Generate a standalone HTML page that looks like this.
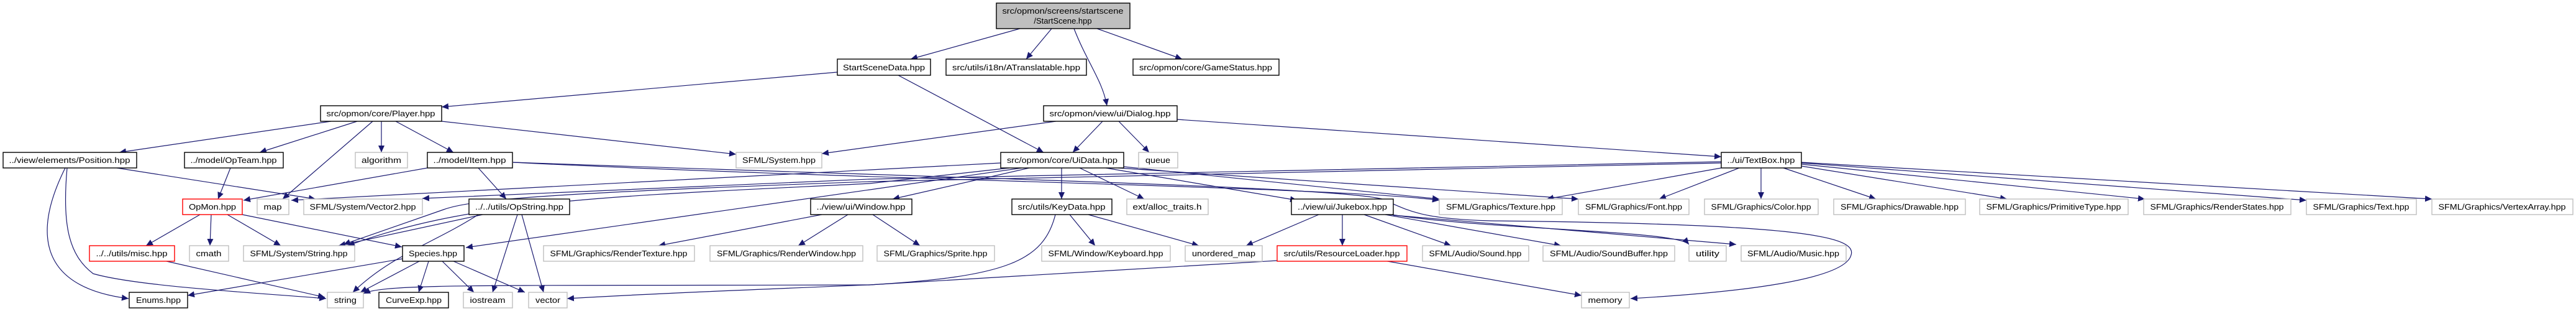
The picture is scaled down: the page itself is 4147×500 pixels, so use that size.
<!DOCTYPE html>
<html><head><meta charset="utf-8"><style>html,body{margin:0;padding:0;background:#fff}svg{display:block}</style></head>
<body>
<svg width="4147" height="500" viewBox="0 0 4147 500" xmlns="http://www.w3.org/2000/svg">
<defs>
<marker id="a" markerUnits="userSpaceOnUse" markerWidth="12" markerHeight="10" refX="11" refY="5" orient="auto"><path d="M0,0 L11,5 L0,10 z" fill="#191970"/></marker>
</defs>
<g fill="none" stroke="#191970" stroke-width="1.2" marker-end="url(#a)">
<path d="M1642,46 L1466,95"/>
<path d="M1693,46 L1652,95"/>
<path d="M1729,46 C1750,100 1775,130 1782,170"/>
<path d="M1766,46 L1903,95"/>
<path d="M1348,116 L711,172"/>
<path d="M1446,121 L1680,245"/>
<path d="M533,195 L192,245"/>
<path d="M575,195 L418,245"/>
<path d="M600,195 L455,320"/>
<path d="M614,195 L614,245"/>
<path d="M637,195 L730,245"/>
<path d="M711,195 L1185,248"/>
<path d="M1700,195 L1323,247"/>
<path d="M1775,195 L1727,245"/>
<path d="M1801,195 L1850,245"/>
<path d="M1895,192 L2771,252"/>
<path d="M188,270 L508,320"/>
<path d="M105,270 C60,360 50,460 207,480"/>
<path d="M108,270 C100,360 110,410 150,440 C220,460 400,470 525,480"/>
<path d="M371,270 L351,320"/>
<path d="M688,270 L392,322"/>
<path d="M770,270 L815,320"/>
<path d="M826,261 C1500,285 2150,300 2225,320 C2270,340 2290,352 2400,355 C2900,360 2990,380 2980,410 C2970,450 2800,470 2625,480"/>
<path d="M826,261 C1400,290 2150,300 2317,322" />
<path d="M1611,262 L469,322"/>
<path d="M2771,260 L1400,288 L680,319"/>
<path d="M2771,262 L1400,292 C900,310 760,320 714,337 L553,393"/>
<path d="M1625,270 L1400,295 C1000,315 760,320 560,395"/>
<path d="M1645,270 L750,398"/>
<path d="M1657,270 L1437,320"/>
<path d="M1709,270 L1709,320"/>
<path d="M1738,270 L1842,320"/>
<path d="M1780,270 L2088,322"/>
<path d="M1809,268 L2317,320"/>
<path d="M1800,270 L2541,320"/>
<path d="M2771,270 L2490,320"/>
<path d="M2800,270 L2671,320"/>
<path d="M2835,270 L2835,320"/>
<path d="M2871,270 L3020,320"/>
<path d="M2900,267 L3231,320"/>
<path d="M2900,264 L3453,320"/>
<path d="M2900,262 L3713,322"/>
<path d="M2900,261 L3915,320"/>
<path d="M322,345 L235,395"/>
<path d="M340,345 L338,395"/>
<path d="M366,345 L452,395"/>
<path d="M390,345 L647,397"/>
<path d="M777,345 L545,395"/>
<path d="M770,345 C700,390 630,410 568,470"/>
<path d="M833,345 L793,470"/>
<path d="M840,345 L875,470"/>
<path d="M268,420 L523,478"/>
<path d="M648,416 L302,475"/>
<path d="M675,420 L580,470"/>
<path d="M690,420 L674,470"/>
<path d="M712,420 L763,470"/>
<path d="M730,420 L845,470"/>
<path d="M1323,345 L1060,395"/>
<path d="M1365,345 L1285,395"/>
<path d="M1405,345 L1481,395"/>
<path d="M1722,345 L1763,395"/>
<path d="M1752,345 L1930,395"/>
<path d="M1699,345 C1680,420 1620,445 1400,458 C800,460 620,455 585,472"/>
<path d="M2056,419 L1400,458 C1100,470 1000,475 913,480"/>
<path d="M2123,345 L2006,395"/>
<path d="M2161,345 L2161,395"/>
<path d="M2196,345 L2336,395"/>
<path d="M2230,345 L2513,395"/>
<path d="M2240,345 C2400,370 2700,370 2719,393"/>
<path d="M2243,346 L2795,393"/>
<path d="M2228,419 L2546,475"/>
</g>
<g font-family="Liberation Sans, sans-serif" font-size="13" text-anchor="middle" fill="#000" stroke-width="1.4">
<rect x="1604" y="5" width="215" height="41" fill="#bfbfbf" stroke="#000"/>
<text x="1711" y="22" textLength="195" lengthAdjust="spacingAndGlyphs">src/opmon/screens/startscene</text>
<text x="1711" y="38">/StartScene.hpp</text>
<g fill="#fff" stroke="#000">
<rect x="1348" y="95" width="150" height="26"/><rect x="1523" y="95" width="226" height="26"/><rect x="1824" y="95" width="235" height="26"/>
<rect x="516" y="170" width="195" height="25"/><rect x="1680" y="170" width="215" height="25"/>
<rect x="5" y="245" width="215" height="25"/><rect x="297" y="245" width="159" height="25"/><rect x="688" y="245" width="137" height="25"/><rect x="1611" y="245" width="198" height="25"/><rect x="2771" y="245" width="129" height="25"/>
<rect x="755" y="320" width="162" height="25"/><rect x="1305" y="320" width="163" height="25"/><rect x="1629" y="320" width="161" height="25"/><rect x="2079" y="320" width="164" height="25"/>
<rect x="648" y="395" width="99" height="25"/>
<rect x="208" y="470" width="94" height="25"/><rect x="610" y="470" width="112" height="25"/>
</g>
<g fill="#fff" stroke="#f00">
<rect x="294" y="320" width="96" height="25"/><rect x="144" y="395" width="137" height="25"/><rect x="2056" y="395" width="209" height="25"/>
</g>
<g fill="#fff" stroke="#bfbfbf">
<rect x="572" y="245" width="84" height="25"/><rect x="1185" y="245" width="138" height="25"/><rect x="1833" y="245" width="63" height="25"/>
<rect x="414" y="320" width="51" height="25"/><rect x="489" y="320" width="191" height="25"/><rect x="1814" y="320" width="131" height="25"/><rect x="2317" y="320" width="198" height="25"/><rect x="2541" y="320" width="178" height="25"/><rect x="2744" y="320" width="183" height="25"/><rect x="2952" y="320" width="212" height="25"/><rect x="3187" y="320" width="239" height="25"/><rect x="3451" y="320" width="237" height="25"/><rect x="3713" y="320" width="177" height="25"/><rect x="3915" y="320" width="227" height="25"/>
<rect x="305" y="395" width="63" height="25"/><rect x="392" y="395" width="179" height="25"/><rect x="875" y="395" width="243" height="25"/><rect x="1143" y="395" width="246" height="25"/><rect x="1412" y="395" width="189" height="25"/><rect x="1677" y="395" width="207" height="25"/><rect x="1908" y="395" width="124" height="25"/><rect x="2290" y="395" width="171" height="25"/><rect x="2484" y="395" width="212" height="25"/><rect x="2719" y="395" width="60" height="25"/><rect x="2803" y="395" width="169" height="25"/>
<rect x="527" y="470" width="58" height="25"/><rect x="746" y="470" width="79" height="25"/><rect x="851" y="470" width="62" height="25"/><rect x="2546" y="470" width="77" height="25"/>
</g>
<g stroke="none">
<text x="1423" y="113" textLength="132" lengthAdjust="spacingAndGlyphs">StartSceneData.hpp</text>
<text x="1636" y="113" textLength="206" lengthAdjust="spacingAndGlyphs">src/utils/i18n/ATranslatable.hpp</text>
<text x="1941" y="113" textLength="214" lengthAdjust="spacingAndGlyphs">src/opmon/core/GameStatus.hpp</text>
<text x="613" y="187" textLength="175" lengthAdjust="spacingAndGlyphs">src/opmon/core/Player.hpp</text>
<text x="1787" y="187" textLength="195" lengthAdjust="spacingAndGlyphs">src/opmon/view/ui/Dialog.hpp</text>
<text x="112" y="262" textLength="195" lengthAdjust="spacingAndGlyphs">../view/elements/Position.hpp</text>
<text x="376" y="262" textLength="139" lengthAdjust="spacingAndGlyphs">../model/OpTeam.hpp</text>
<text x="614" y="262" textLength="64" lengthAdjust="spacingAndGlyphs">algorithm</text>
<text x="756" y="262" textLength="117" lengthAdjust="spacingAndGlyphs">../model/Item.hpp</text>
<text x="1254" y="262" textLength="118" lengthAdjust="spacingAndGlyphs">SFML/System.hpp</text>
<text x="1710" y="262" textLength="178" lengthAdjust="spacingAndGlyphs">src/opmon/core/UiData.hpp</text>
<text x="1864" y="262" textLength="40" lengthAdjust="spacingAndGlyphs">queue</text>
<text x="2835" y="262" textLength="109" lengthAdjust="spacingAndGlyphs">../ui/TextBox.hpp</text>
<text x="342" y="337" textLength="76" lengthAdjust="spacingAndGlyphs">OpMon.hpp</text>
<text x="439" y="337" textLength="29" lengthAdjust="spacingAndGlyphs">map</text>
<text x="584" y="337" textLength="171" lengthAdjust="spacingAndGlyphs">SFML/System/Vector2.hpp</text>
<text x="836" y="337" textLength="142" lengthAdjust="spacingAndGlyphs">../../utils/OpString.hpp</text>
<text x="1386" y="337" textLength="143" lengthAdjust="spacingAndGlyphs">../view/ui/Window.hpp</text>
<text x="1709" y="337" textLength="141" lengthAdjust="spacingAndGlyphs">src/utils/KeyData.hpp</text>
<text x="1879" y="337" textLength="111" lengthAdjust="spacingAndGlyphs">ext/alloc_traits.h</text>
<text x="2161" y="337" textLength="144" lengthAdjust="spacingAndGlyphs">../view/ui/Jukebox.hpp</text>
<text x="2416" y="337" textLength="176" lengthAdjust="spacingAndGlyphs">SFML/Graphics/Texture.hpp</text>
<text x="2630" y="337" textLength="156" lengthAdjust="spacingAndGlyphs">SFML/Graphics/Font.hpp</text>
<text x="2835" y="337" textLength="161" lengthAdjust="spacingAndGlyphs">SFML/Graphics/Color.hpp</text>
<text x="3058" y="337" textLength="190" lengthAdjust="spacingAndGlyphs">SFML/Graphics/Drawable.hpp</text>
<text x="3306" y="337" textLength="217" lengthAdjust="spacingAndGlyphs">SFML/Graphics/PrimitiveType.hpp</text>
<text x="3569" y="337" textLength="215" lengthAdjust="spacingAndGlyphs">SFML/Graphics/RenderStates.hpp</text>
<text x="3801" y="337" textLength="155" lengthAdjust="spacingAndGlyphs">SFML/Graphics/Text.hpp</text>
<text x="4028" y="337" textLength="205" lengthAdjust="spacingAndGlyphs">SFML/Graphics/VertexArray.hpp</text>
<text x="212" y="412" textLength="115" lengthAdjust="spacingAndGlyphs">../../utils/misc.hpp</text>
<text x="336" y="412" textLength="41" lengthAdjust="spacingAndGlyphs">cmath</text>
<text x="481" y="412" textLength="157" lengthAdjust="spacingAndGlyphs">SFML/System/String.hpp</text>
<text x="697" y="412" textLength="78" lengthAdjust="spacingAndGlyphs">Species.hpp</text>
<text x="996" y="412" textLength="221" lengthAdjust="spacingAndGlyphs">SFML/Graphics/RenderTexture.hpp</text>
<text x="1266" y="412" textLength="224" lengthAdjust="spacingAndGlyphs">SFML/Graphics/RenderWindow.hpp</text>
<text x="1506" y="412" textLength="167" lengthAdjust="spacingAndGlyphs">SFML/Graphics/Sprite.hpp</text>
<text x="1780" y="412" textLength="185" lengthAdjust="spacingAndGlyphs">SFML/Window/Keyboard.hpp</text>
<text x="1970" y="412" textLength="102" lengthAdjust="spacingAndGlyphs">unordered_map</text>
<text x="2160" y="412" textLength="187" lengthAdjust="spacingAndGlyphs">src/utils/ResourceLoader.hpp</text>
<text x="2375" y="412" textLength="149" lengthAdjust="spacingAndGlyphs">SFML/Audio/Sound.hpp</text>
<text x="2590" y="412" textLength="190" lengthAdjust="spacingAndGlyphs">SFML/Audio/SoundBuffer.hpp</text>
<text x="2749" y="412" textLength="38" lengthAdjust="spacingAndGlyphs">utility</text>
<text x="2887" y="412" textLength="148" lengthAdjust="spacingAndGlyphs">SFML/Audio/Music.hpp</text>
<text x="255" y="487" textLength="72" lengthAdjust="spacingAndGlyphs">Enums.hpp</text>
<text x="556" y="487" textLength="36" lengthAdjust="spacingAndGlyphs">string</text>
<text x="666" y="487" textLength="90" lengthAdjust="spacingAndGlyphs">CurveExp.hpp</text>
<text x="785" y="487" textLength="57" lengthAdjust="spacingAndGlyphs">iostream</text>
<text x="882" y="487" textLength="40" lengthAdjust="spacingAndGlyphs">vector</text>
<text x="2584" y="487" textLength="55" lengthAdjust="spacingAndGlyphs">memory</text>
</g>
</g>
</svg>
</body></html>
